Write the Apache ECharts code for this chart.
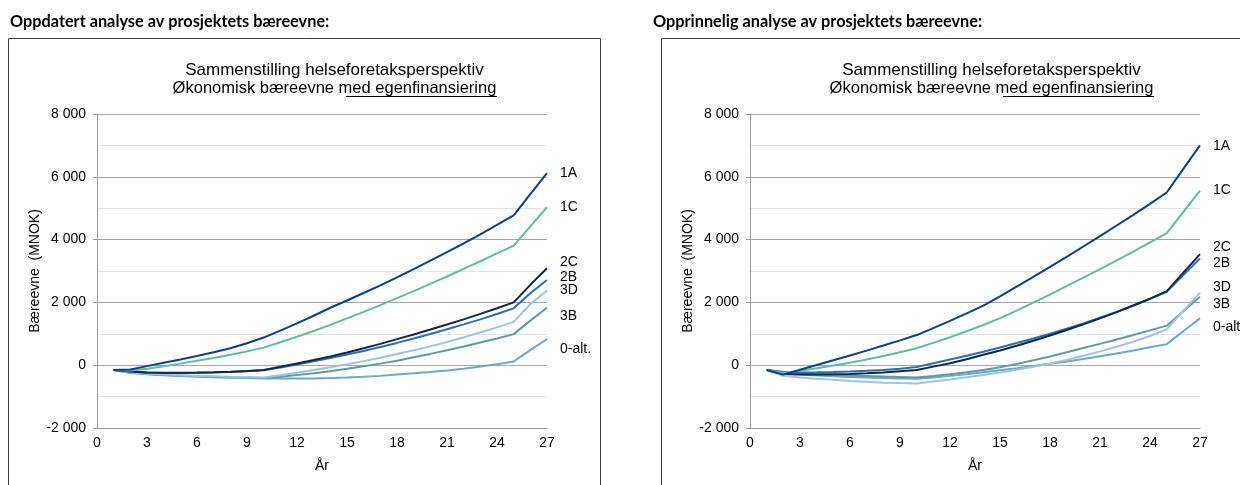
<!DOCTYPE html>
<html>
<head>
<meta charset="utf-8">
<script src="https://cdn.jsdelivr.net/npm/echarts@6/dist/echarts.min.js"></script>
<style>
html,body{margin:0;padding:0;background:#fff;}
#c{width:1240px;height:485px;}
</style>
</head>
<body>
<div id="c"></div>
<script>
// ---- data ----
const years = [1,2,3,4,5,6,7,8,9,10,11,12,13,14,15,16,17,18,19,20,21,22,23,24,25,26,27];
const seriesNames = ['1A','1C','2C','2B','3D','3B','0-alt.'];
const rightNames = ['1A','1C','2C','2B','3D','3B','0-alt.'];

// Updated analysis (left)
const upd_1A = [-150,-140,-30,80,180,290,410,540,700,880,1100,1330,1575,1830,2060,2300,2545,2800,3060,3330,3600,3880,4170,4470,4770,5450,6120];
const upd_1C = [-150,-170,-110,-30,50,140,230,330,440,560,730,905,1090,1285,1490,1700,1915,2135,2360,2590,2825,3065,3310,3560,3810,4420,5030];
const upd_2C = [-150,-200,-230,-240,-240,-235,-225,-210,-185,-150,-50,55,165,280,405,540,680,830,980,1135,1295,1460,1635,1815,2000,2560,3090];
const upd_2B = [-150,-200,-230,-245,-250,-245,-235,-220,-195,-160,-70,25,125,230,340,455,580,710,850,995,1145,1300,1460,1630,1810,2290,2716];
const upd_3D = [-150,-230,-270,-300,-320,-340,-355,-370,-380,-390,-320,-240,-155,-65,30,130,240,355,475,600,740,885,1040,1205,1380,1950,2375];
const upd_3B = [-150,-230,-280,-310,-330,-350,-365,-380,-395,-410,-365,-315,-255,-190,-115,-35,50,145,250,360,475,595,720,850,990,1420,1830];
const upd_0  = [-150,-250,-290,-320,-345,-365,-385,-400,-410,-420,-425,-425,-420,-410,-395,-370,-340,-300,-260,-215,-165,-110,-45,30,120,480,830];

// Original analysis (right)
const org_1A = [-150,-300,-145,5,155,310,465,625,790,960,1180,1410,1650,1900,2190,2500,2810,3130,3450,3780,4110,4450,4790,5140,5500,6250,7000];
const org_1C = [-150,-250,-180,-100,-10,80,180,290,410,540,710,890,1080,1280,1500,1740,1990,2250,2520,2790,3060,3340,3620,3910,4200,4880,5560];
const org_2C = [-150,-280,-300,-300,-290,-280,-260,-230,-190,-150,-45,65,190,330,470,620,780,945,1120,1300,1490,1690,1900,2120,2350,2950,3540];
const org_2B = [-150,-220,-230,-225,-215,-200,-180,-150,-110,-60,60,180,300,430,565,705,850,1000,1160,1330,1510,1700,1900,2110,2340,2870,3400];
const org_3D = [-170,-340,-390,-430,-465,-500,-530,-555,-570,-580,-520,-455,-385,-310,-230,-145,-50,55,170,300,440,590,750,930,1140,1730,2310];
const org_3B = [-150,-220,-260,-290,-310,-330,-345,-360,-375,-390,-345,-290,-225,-155,-65,40,155,280,410,545,680,820,960,1110,1260,1720,2180];
const org_0  = [-150,-260,-300,-330,-355,-375,-395,-410,-420,-430,-390,-340,-285,-225,-160,-95,-25,45,120,200,285,375,470,570,670,1080,1490];

// ---- styles ----
const colors = ['#0B3D91','#5DBE9E','#0A2758','#2F6EA8','#9CC3E5','#5E9C9C','#6AA6D8'];
const leftLabelDy  = [0,0,-6,-3,0,8,10];
const rightLabelDy = [1,0,-7,5,-6,7,9];
const FONT = '"Liberation Sans", Arial, sans-serif';
const FS = 14;

const leftData  = [upd_1A,upd_1C,upd_2C,upd_2B,upd_3D,upd_3B,upd_0];
const rightData = [org_1A,org_1C,org_2C,org_2B,org_3D,org_3B,org_0];

function pairs(arr){ return years.map((y,i)=>[y,arr[i]]); }

function mkSeries(name, arr, gi, color, dy){
  return {
    type:'line', name:name, xAxisIndex:gi, yAxisIndex:gi,
    data:pairs(arr), showSymbol:false, symbol:'none',
    lineStyle:{color:color,width:2}, itemStyle:{color:color},
    z: 3,
    endLabel:{show:true, formatter:name, color:'#000', fontFamily:FONT, fontSize:FS,
              distance:13, offset:[0,dy]},
    animation:false
  };
}

const series = [];
const order = [6,5,4,3,2,1,0];
order.forEach(i=>series.push(mkSeries(seriesNames[i], leftData[i], 0, colors[i], leftLabelDy[i])));
order.forEach(i=>series.push(mkSeries(rightNames[i], rightData[i], 1, colors[i], rightLabelDy[i])));

function xAx(gi){
  return {
    type:'value', gridIndex:gi, min:0, max:27, interval:3,
    name:'År', nameLocation:'middle', nameGap:31,
    nameTextStyle:{fontFamily:FONT,fontSize:FS,color:'#000'},
    axisLine:{onZero:false, lineStyle:{color:'#9a9a9a',width:1}},
    axisTick:{show:false},
    axisLabel:{fontFamily:FONT,fontSize:FS,color:'#000',margin:8},
    splitLine:{show:false}
  };
}
function yAx(gi){
  return {
    type:'value', gridIndex:gi, min:-2000, max:8000, interval:2000,
    name:'Bæreevne  (MNOK)', nameLocation:'middle', nameGap:55, nameRotate:90,
    nameTextStyle:{fontFamily:FONT,fontSize:FS,color:'#000'},
    axisLine:{show:true, lineStyle:{color:'#9a9a9a',width:1}},
    axisTick:{show:true, length:4, lineStyle:{color:'#9a9a9a'}},
    axisLabel:{fontFamily:FONT,fontSize:FS,color:'#000',margin:11,
      formatter:v=>{ const s=String(Math.abs(v)); const t=s.length>3? s.slice(0,s.length-3)+' '+s.slice(-3):s; return (v<0?'-':'')+t; }},
    splitLine:{show:true, lineStyle:{color:'#a6a6a6',width:1}},
    minorTick:{show:false, splitNumber:2},
    minorSplitLine:{show:true, lineStyle:{color:'#e3e3e3',width:1}}
  };
}

function titleGroup(cx, ul0, ul1){
  return [
    {type:'text', style:{text:'Sammenstilling helseforetaksperspektiv', x:cx, y:70, align:'center', verticalAlign:'middle', font:'17px '+FONT, fill:'#000'}},
    {type:'text', style:{text:'Økonomisk bæreevne med egenfinansiering', x:cx, y:88, align:'center', verticalAlign:'middle', font:'16.5px '+FONT, fill:'#000'}},
    {type:'line', shape:{x1:ul0,y1:96.5,x2:ul1,y2:96.5}, style:{stroke:'#000',lineWidth:1}}
  ];
}

const graphic = [
  {type:'rect', shape:{x:8.5,y:38.5,width:592,height:470}, style:{fill:'none',stroke:'#404040',lineWidth:1}, z:-1},
  {type:'rect', shape:{x:661.5,y:38.5,width:600,height:470}, style:{fill:'none',stroke:'#404040',lineWidth:1}, z:-1},
  {type:'text', style:{text:'Oppdatert analyse av prosjektets bæreevne:', x:10, y:22, verticalAlign:'middle', font:'bold 16.3px Lato, "Open Sans", sans-serif', fill:'#000'}},
  {type:'text', style:{text:'Opprinnelig analyse av prosjektets bæreevne:', x:653, y:22, verticalAlign:'middle', font:'bold 16.3px Lato, "Open Sans", sans-serif', fill:'#000'}},
].concat(titleGroup(334.5, 346, 497)).concat(titleGroup(991.5, 1003, 1154));

const chart = echarts.init(document.getElementById('c'), null, {renderer:'canvas'});
chart.setOption({
  animation:false,
  backgroundColor:'#fff',
  grid:[
    {left:97, top:114, width:450, height:314},
    {left:750, top:114, width:450, height:314}
  ],
  xAxis:[xAx(0), xAx(1)],
  yAxis:[yAx(0), yAx(1)],
  series:series,
  graphic:graphic
});
</script>
</body>
</html>
